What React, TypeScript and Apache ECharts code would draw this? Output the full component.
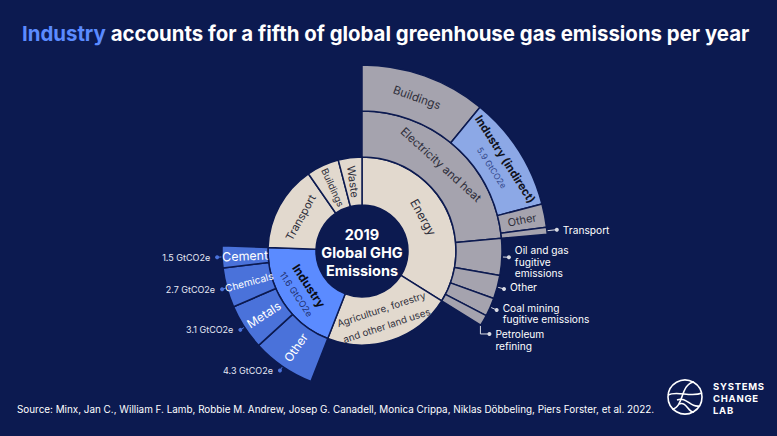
import React, { useEffect, useRef } from "react";
import * as echarts from "echarts";

// ---------- data ----------
const sectorNames = ["Energy", "Agriculture, forestry and other land uses", "Industry", "Transport", "Buildings", "Waste"];
const agricultureValue = 13.0;
const transportValue = 8.7;
const buildingsValue = 3.3;
const wasteValue = 2.4;

const electricityNames = ["Buildings", "Industry (indirect)", "Other", "Transport"];
const electricityValues = [6.45, 5.9, 1.2, 0.35];

const energyOtherNames = ["Oil and gas fugitive emissions", "Other", "Coal mining fugitive emissions", "Petroleum refining"];
const energyOtherValues = [2.5, 1.6, 1.25, 0.75];
const energyOtherCallouts = ["Oil and gas\nfugitive\nemissions", "Other", "Coal mining\nfugitive emissions", "Petroleum\nrefining"];

const industryNames = ["Other", "Metals", "Chemicals", "Cement"];
const industryValues = [4.3, 3.1, 2.7, 1.5];

const titleHighlight = "Industry";
const titleRest = "accounts for a fifth of global greenhouse gas emissions per year";
const centerText = "2019\nGlobal GHG\nEmissions";
const sourceText =
  "Source: Minx, Jan C., William F. Lamb, Robbie M. Andrew, Josep G. Canadell, Monica Crippa, Niklas Döbbeling, Piers Forster, et al. 2022.";

// ---------- style ----------
const BG = "#0c1a50";
const BEIGE = "#e2d9ce";
const GRAY = "#a5a3ae";
const IND = "#5b8bff";
const IND_CHILD = "#4a72da";
const IND_INDIRECT = "#8ca8e6";
const DARK = "#2e2e3a";
const FONT = "Inter, 'Noto Sans', sans-serif";

const CX = 362;
const CY = 251;
const R0 = 46;
const R1 = 94;
const R2 = 140;
const R3 = 186;

const sum = (a: number[]) => a.reduce((s, v) => s + v, 0);

export default function App() {
  const ref = useRef<HTMLDivElement>(null);

  useEffect(() => {
    if (!ref.current) return;
    const chart = echarts.init(ref.current, undefined, { renderer: "svg" });

    const electricityTotal = sum(electricityValues);
    const energyTotal = electricityTotal + sum(energyOtherValues);
    const industryTotal = sum(industryValues);
    const total = energyTotal + agricultureValue + industryTotal + transportValue + buildingsValue + wasteValue;

    const midDeg = (cumStart: number, v: number) => 90 - ((cumStart + v / 2) / total) * 360;
    const polar = (r: number, deg: number) => {
      const a = (deg * Math.PI) / 180;
      return [CX + r * Math.cos(a), CY - r * Math.sin(a)];
    };

    const darkLabel = (size: number, rotate: string) => ({
      color: DARK,
      fontSize: size,
      fontFamily: FONT,
      rotate,
    });

    const electricityChildren = electricityNames.map((n, i) => {
      const item: any = {
        name: n,
        value: electricityValues[i],
        itemStyle: { color: n === "Industry (indirect)" ? IND_INDIRECT : GRAY },
      };
      if (n === "Buildings") item.label = darkLabel(11.5, "tangential");
      else if (n === "Industry (indirect)")
        item.label = {
          rotate: "tangential",
          formatter: `{b|Industry (indirect)}\n{s|${electricityValues[i]} GtCO2e}`,
          lineHeight: 16,
          rich: {
            b: { fontFamily: FONT, fontSize: 11.5, fontWeight: "bold", color: "#10121c", lineHeight: 18 },
            s: { fontFamily: FONT, fontSize: 8.5, color: "#33478a", lineHeight: 14 },
          },
        };
      else if (n === "Other") item.label = darkLabel(11, "radial");
      else item.label = { show: false };
      return item;
    });

    const energyChildren: any[] = [
      {
        name: "Electricity and heat",
        itemStyle: { color: GRAY },
        label: darkLabel(11.5, "tangential"),
        children: electricityChildren,
      },
      ...energyOtherNames.map((n, i) => ({
        name: n,
        value: energyOtherValues[i],
        itemStyle: { color: GRAY },
        label: { show: false },
      })),
    ];

    const industrySizes = [12, 12, 10, 12.5];
    const industryChildren = industryNames.map((n, i) => ({
      name: n,
      value: industryValues[i],
      itemStyle: { color: IND_CHILD },
      label: { color: "#ffffff", fontSize: industrySizes[i], fontFamily: FONT, rotate: "radial" },
    }));

    const data: any[] = [
      { name: sectorNames[0], itemStyle: { color: BEIGE }, label: darkLabel(12, "tangential"), children: energyChildren },
      {
        name: sectorNames[1],
        value: agricultureValue,
        itemStyle: { color: BEIGE },
        label: {
          ...darkLabel(9.8, "tangential"),
          formatter: "Agriculture, forestry\nand other land uses",
          lineHeight: 17,
        },
      },
      {
        name: sectorNames[2],
        itemStyle: { color: IND },
        label: {
          rotate: "tangential",
          formatter: `{b|Industry}\n{s|${industryTotal.toFixed(1)} GtCO2e}`,
          rich: {
            b: { fontFamily: FONT, fontSize: 12, fontWeight: "bold", color: "#0a0c14", lineHeight: 17 },
            s: { fontFamily: FONT, fontSize: 9, color: "#1f2f6e", lineHeight: 13 },
          },
        },
        children: industryChildren,
      },
      { name: sectorNames[3], value: transportValue, itemStyle: { color: BEIGE }, label: darkLabel(11, "tangential") },
      { name: sectorNames[4], value: buildingsValue, itemStyle: { color: BEIGE }, label: darkLabel(9.5, "radial") },
      { name: sectorNames[5], value: wasteValue, itemStyle: { color: BEIGE }, label: darkLabel(11, "radial") },
    ];

    // ---------- callouts (positions derived from data angles) ----------
    const graphics: any[] = [];
    const LIGHT = "#d9dbe4";
    const CALL = 10.2;
    const textEl = (x: number, y: number, text: string, opts: any) => ({
      type: "text",
      x,
      y,
      silent: true,
      style: {
        text,
        fill: opts.fill || "#ffffff",
        fontFamily: FONT,
        fontSize: opts.fontSize || CALL,
        fontWeight: opts.fontWeight || "normal",
        lineHeight: opts.lineHeight,
        align: opts.align || "left",
        textAlign: opts.align || "left",
        verticalAlign: opts.va || "middle",
        textVerticalAlign: opts.va || "middle",
      },
    });

    // Electricity -> Transport
    {
      const cum = sum(electricityValues.slice(0, 3));
      const d = midDeg(cum, electricityValues[3]);
      const [x1, y1] = polar(R3, d);
      const [x2, y2] = polar(R3 + 10, d);
      graphics.push({ type: "line", silent: true, shape: { x1, y1, x2, y2 }, style: { stroke: LIGHT, lineWidth: 1 } });
      graphics.push({ type: "circle", silent: true, shape: { cx: x2, cy: y2, r: 2 }, style: { fill: LIGHT } });
      graphics.push(textEl(x2 + 6, y2, "Transport", {}));
    }

    // Energy others
    let cum = electricityTotal;
    energyOtherNames.forEach((n, i) => {
      const v = energyOtherValues[i];
      const d = midDeg(cum, v);
      cum += v;
      const [x1, y1] = polar(R2 + 1, d);
      if (n === "Petroleum refining") {
        const py = y1 + 13;
        const px = x1 + 5;
        graphics.push({
          type: "polyline",
          silent: true,
          shape: { points: [[x1 - 4, y1 + 1], [x1 - 4, py], [px, py]] },
          style: { stroke: LIGHT, lineWidth: 1, fill: null },
        });
        graphics.push({ type: "circle", silent: true, shape: { cx: px, cy: py, r: 2 }, style: { fill: LIGHT } });
        graphics.push(textEl(px + 6, py - 6, energyOtherCallouts[i], { va: "top", lineHeight: 12 }));
        return;
      }
      const [x2, y2] = polar(R2 + 7, d);
      graphics.push({ type: "line", silent: true, shape: { x1, y1, x2, y2 }, style: { stroke: LIGHT, lineWidth: 1 } });
      graphics.push({ type: "circle", silent: true, shape: { cx: x2, cy: y2, r: 2 }, style: { fill: LIGHT } });
      const lines = energyOtherCallouts[i].split("\n").length;
      const top = lines === 3 ? y2 - 13 : y2 - 8;
      graphics.push(textEl(x2 + 6, top, energyOtherCallouts[i], { va: "top", lineHeight: 11.5 }));
    });

    // Industry children values (left)
    cum = energyTotal + agricultureValue;
    industryNames.forEach((n, i) => {
      const v = industryValues[i];
      const d = midDeg(cum, v);
      cum += v;
      const [x1, y1] = polar(R2, d);
      const [x2, y2] = polar(R2 + 5, d);
      graphics.push({ type: "line", silent: true, shape: { x1, y1, x2, y2 }, style: { stroke: IND_CHILD, lineWidth: 1 } });
      graphics.push({ type: "circle", silent: true, shape: { cx: x2, cy: y2, r: 2 }, style: { fill: IND_CHILD } });
      graphics.push(textEl(x2 - 7, y2, `${v} GtCO2e`, { fontSize: 9, align: "right", fill: "#e6e9f5" }));
    });

    // center text
    graphics.push(
      textEl(CX, CY + 1, centerText, { fontSize: 14.5, fontWeight: "bold", align: "center", lineHeight: 18 })
    );

    // source
    graphics.push(textEl(17, 409, sourceText, { fontSize: 9.9, fill: "#ffffff" }));

    // logo
    const LX = 685;
    const LY = 397;
    const logoStroke = { stroke: "#ffffff", lineWidth: 1.6, fill: null };
    graphics.push({ type: "circle", silent: true, shape: { cx: LX, cy: LY, r: 17 }, style: { ...logoStroke } });
    graphics.push({
      type: "bezierCurve",
      silent: true,
      shape: { x1: LX - 13, y1: LY + 12, cpx1: LX - 1, cpy1: LY + 11, cpx2: LX - 5, cpy2: LY - 13, x2: LX + 9, y2: LY - 15 },
      style: { ...logoStroke },
    });
    graphics.push({
      type: "bezierCurve",
      silent: true,
      shape: { x1: LX - 17, y1: LY - 2, cpx1: LX - 8, cpy1: LY - 7, cpx2: LX + 6, cpy2: LY + 1, x2: LX + 17, y2: LY - 4 },
      style: { ...logoStroke },
    });
    graphics.push({
      type: "bezierCurve",
      silent: true,
      shape: { x1: LX - 8, y1: LY + 3, cpx1: LX + 2, cpy1: LY - 1, cpx2: LX + 5, cpy2: LY + 11, x2: LX + 14, y2: LY + 9 },
      style: { ...logoStroke },
    });
    graphics.push({
      type: "bezierCurve",
      silent: true,
      shape: { x1: LX - 6, y1: LY + 7, cpx1: LX + 2, cpy1: LY + 4, cpx2: LX + 3, cpy2: LY + 16, x2: LX + 9, y2: LY + 15 },
      style: { ...logoStroke },
    });
    const sp = "\u200A";
    ["SYSTEMS", "CHANGE", "LAB"].forEach((w, i) => {
      graphics.push(
        textEl(713, 386 + i * 12, w.split("").join(sp), { fontSize: 9.5, fontWeight: "bold", fill: "#ffffff" })
      );
    });

    chart.setOption({
      backgroundColor: BG,
      animation: false,
      title: {
        left: 22,
        top: 23,
        padding: 0,
        text: `{h|${titleHighlight}} {w|${titleRest}}`,
        textStyle: {
          rich: {
            h: { color: IND, fontSize: 20.4, fontWeight: "bold", fontFamily: FONT },
            w: { color: "#ffffff", fontSize: 20.4, fontWeight: "bold", fontFamily: FONT },
          },
        },
      },
      series: [
        {
          type: "sunburst",
          center: [CX, CY],
          startAngle: 90,
          clockwise: true,
          sort: null,
          nodeClick: false,
          emphasis: { disabled: true },
          levels: [{}, { r0: R0, r: R1 }, { r0: R1, r: R2 }, { r0: R2, r: R3 }],
          itemStyle: { borderColor: BG, borderWidth: 1.5 },
          label: { fontFamily: FONT, color: DARK, textBorderWidth: 0 },
          data,
        },
      ],
      graphic: graphics,
    });

    return () => chart.dispose();
  }, []);

  return <div ref={ref} style={{ position: "fixed", left: 0, top: 0, width: 777, height: 436 }} />;
}
